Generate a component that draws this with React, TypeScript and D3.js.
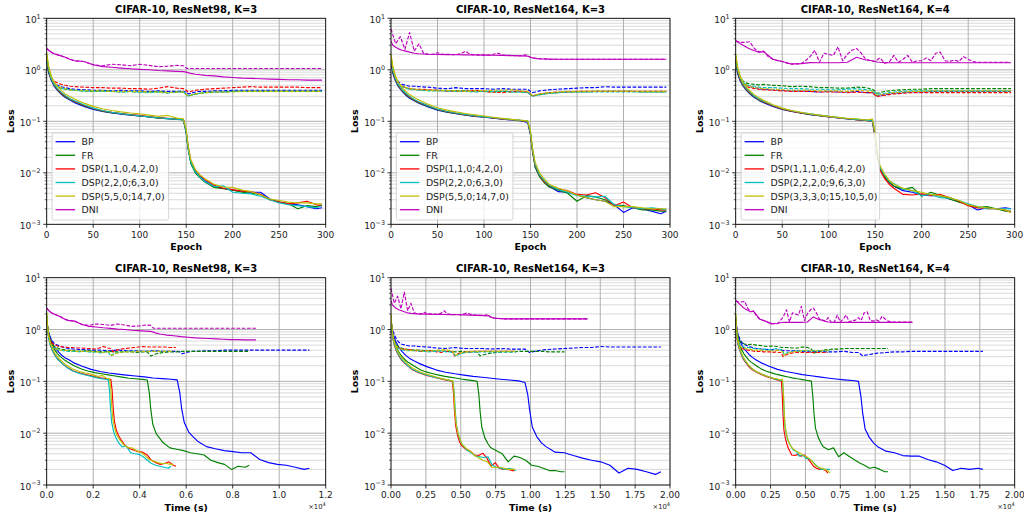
import React from "react";
import * as d3 from "d3";

const W = 1024;
const H = 518;
const FONT = "DejaVu Sans";

// sampled epochs for most curves, and a finer grid for the noisy DNI test curves
const EP = [0, 2, 5, 8, 12, 16, 20, 25, 30, 40, 50, 60, 70, 80, 90, 100, 110, 120, 130, 140, 147, 150, 152, 155, 160, 165, 170, 180, 190, 200, 210, 220, 230, 240, 250, 260, 270, 280, 290, 296];
const EP5 = d3.range(0, 300, 5);
const LAST_EPOCH = 296;

const COLORS = ["#0000ff", "#008000", "#ff0000", "#00bfbf", "#bfbf00", "#bf00bf"];
const LABELS_R98 = ["BP", "FR", "DSP(1,1,0,4,2,0)", "DSP(2,2,0;6,3,0)", "DSP(5,5,0;14,7,0)", "DNI"];
const LABELS_R164K3 = ["BP", "FR", "DSP(1,1,0;4,2,0)", "DSP(2,2,0;6,3,0)", "DSP(5,5,0;14,7,0)", "DNI"];
const LABELS_R164K4 = ["BP", "FR", "DSP(1,1,1,0;6,4,2,0)", "DSP(2,2,2,0;9,6,3,0)", "DSP(3,3,3,0;15,10,5,0)", "DNI"];

// total wall-clock time (s) of each run: BP, FR, DSP a, DSP b, DSP c, DNI
const TIME_R98 = [11300, 8710, 5560, 5340, 5440, 9000];
const TIME_R164K3 = [19350, 12430, 8850, 8950, 8900, 14100];
const TIME_R164K4 = [17720, 10920, 6600, 6750, 6750, 12680];

// ResNet98, K=3
const trainR98 = [
  [1.4, 0.9, 0.62, 0.48, 0.39, 0.33, 0.29, 0.26, 0.23, 0.195, 0.17, 0.155, 0.145, 0.138, 0.132, 0.127, 0.122, 0.116, 0.113, 0.11, 0.107, 0.06, 0.03, 0.016, 0.0105, 0.0085, 0.007, 0.0055, 0.005, 0.0046, 0.0044, 0.0042, 0.0042, 0.0031, 0.0027, 0.0025, 0.0024, 0.0022, 0.002, 0.0021],
  [1.6, 0.95, 0.64, 0.5, 0.4, 0.34, 0.3, 0.265, 0.24, 0.2, 0.175, 0.158, 0.147, 0.14, 0.133, 0.127, 0.121, 0.115, 0.112, 0.109, 0.106, 0.06, 0.03, 0.015, 0.0098, 0.008, 0.0066, 0.0052, 0.0049, 0.0046, 0.0042, 0.004, 0.0038, 0.003, 0.0027, 0.0025, 0.002, 0.0023, 0.0022, 0.0024],
  [1.8, 1.0, 0.66, 0.51, 0.41, 0.35, 0.31, 0.27, 0.245, 0.205, 0.178, 0.16, 0.15, 0.142, 0.135, 0.13, 0.124, 0.118, 0.114, 0.111, 0.108, 0.065, 0.033, 0.017, 0.011, 0.0088, 0.0075, 0.0057, 0.005, 0.0047, 0.0044, 0.0043, 0.0038, 0.003, 0.0027, 0.0025, 0.0026, 0.0028, 0.0024, 0.0023],
  [1.9, 1.05, 0.67, 0.52, 0.42, 0.36, 0.315, 0.275, 0.25, 0.21, 0.18, 0.162, 0.15, 0.141, 0.134, 0.128, 0.122, 0.117, 0.113, 0.11, 0.107, 0.062, 0.031, 0.016, 0.0103, 0.0082, 0.0068, 0.0054, 0.0056, 0.0042, 0.004, 0.0039, 0.0035, 0.003, 0.0026, 0.0024, 0.0023, 0.0022, 0.0021, 0.0023],
  [2.1, 1.2, 0.75, 0.57, 0.46, 0.39, 0.34, 0.3, 0.27, 0.225, 0.195, 0.175, 0.162, 0.152, 0.145, 0.14, 0.132, 0.125, 0.13, 0.115, 0.112, 0.07, 0.035, 0.018, 0.0115, 0.009, 0.0077, 0.006, 0.0053, 0.0052, 0.0046, 0.0043, 0.0037, 0.0031, 0.0029, 0.0027, 0.0026, 0.0026, 0.0025, 0.0025],
  [2.6, 2.4, 2.2, 2.05, 1.95, 1.85, 1.75, 1.6, 1.5, 1.45, 1.25, 1.15, 1.12, 1.08, 1.05, 1.02, 1.0, 0.97, 0.95, 0.93, 0.92, 0.9, 0.88, 0.85, 0.82, 0.8, 0.78, 0.76, 0.73, 0.71, 0.69, 0.68, 0.67, 0.66, 0.65, 0.64, 0.64, 0.63, 0.63, 0.63],
];
const testR98 = [
  [1.5, 0.9, 0.65, 0.55, 0.5, 0.47, 0.45, 0.43, 0.42, 0.41, 0.4, 0.4, 0.39, 0.4, 0.39, 0.39, 0.38, 0.39, 0.38, 0.38, 0.38, 0.37, 0.34, 0.35, 0.37, 0.38, 0.38, 0.39, 0.39, 0.4, 0.4, 0.4, 0.4, 0.4, 0.4, 0.4, 0.4, 0.4, 0.4, 0.4],
  [1.6, 0.95, 0.66, 0.52, 0.46, 0.44, 0.42, 0.41, 0.4, 0.39, 0.38, 0.39, 0.38, 0.37, 0.38, 0.37, 0.37, 0.38, 0.36, 0.37, 0.37, 0.33, 0.31, 0.32, 0.34, 0.35, 0.36, 0.37, 0.37, 0.38, 0.38, 0.38, 0.38, 0.38, 0.38, 0.38, 0.38, 0.38, 0.38, 0.38],
  [1.8, 1.0, 0.7, 0.6, 0.55, 0.52, 0.5, 0.48, 0.47, 0.46, 0.45, 0.45, 0.44, 0.44, 0.43, 0.43, 0.42, 0.44, 0.47, 0.44, 0.43, 0.4, 0.37, 0.38, 0.4, 0.41, 0.42, 0.43, 0.44, 0.45, 0.46, 0.47, 0.46, 0.46, 0.46, 0.46, 0.46, 0.45, 0.45, 0.45],
  [1.9, 1.0, 0.68, 0.54, 0.47, 0.44, 0.42, 0.41, 0.4, 0.39, 0.38, 0.38, 0.38, 0.37, 0.38, 0.37, 0.36, 0.37, 0.35, 0.37, 0.37, 0.33, 0.31, 0.32, 0.34, 0.35, 0.36, 0.37, 0.37, 0.38, 0.38, 0.38, 0.38, 0.38, 0.38, 0.38, 0.38, 0.38, 0.38, 0.38],
  [2.1, 1.1, 0.72, 0.56, 0.48, 0.45, 0.43, 0.41, 0.4, 0.4, 0.39, 0.39, 0.38, 0.38, 0.38, 0.38, 0.37, 0.37, 0.36, 0.37, 0.37, 0.33, 0.32, 0.32, 0.34, 0.35, 0.36, 0.37, 0.37, 0.37, 0.38, 0.38, 0.38, 0.38, 0.38, 0.38, 0.38, 0.38, 0.38, 0.38],
  [2.6, 2.4, 2.2, 2.05, 1.95, 1.85, 1.75, 1.6, 1.5, 1.45, 1.25, 1.2, 1.28, 1.25, 1.2, 1.28, 1.22, 1.15, 1.17, 1.22, 1.2, 1.08, 1.06, 1.06, 1.06, 1.06, 1.06, 1.06, 1.06, 1.06, 1.06, 1.06, 1.06, 1.06, 1.06, 1.06, 1.06, 1.06, 1.06, 1.06],
];

// ResNet164, K=3
const trainR164K3 = [
  [1.5, 0.85, 0.6, 0.47, 0.38, 0.32, 0.28, 0.25, 0.225, 0.19, 0.165, 0.15, 0.14, 0.132, 0.125, 0.12, 0.115, 0.11, 0.106, 0.102, 0.095, 0.055, 0.028, 0.013, 0.0085, 0.0065, 0.0055, 0.0043, 0.0042, 0.0037, 0.0033, 0.003, 0.0028, 0.0024, 0.0017, 0.0021, 0.002, 0.0018, 0.0016, 0.0018],
  [1.6, 0.9, 0.62, 0.48, 0.39, 0.33, 0.29, 0.255, 0.23, 0.195, 0.168, 0.152, 0.142, 0.133, 0.126, 0.121, 0.116, 0.111, 0.107, 0.103, 0.1, 0.055, 0.027, 0.013, 0.0082, 0.0064, 0.0053, 0.0046, 0.004, 0.0028, 0.0036, 0.0034, 0.003, 0.0024, 0.0023, 0.0021, 0.0019, 0.0019, 0.0018, 0.0018],
  [1.7, 0.95, 0.64, 0.5, 0.4, 0.34, 0.3, 0.26, 0.235, 0.2, 0.17, 0.155, 0.143, 0.134, 0.127, 0.121, 0.116, 0.111, 0.107, 0.103, 0.1, 0.058, 0.029, 0.014, 0.0088, 0.0066, 0.0057, 0.0048, 0.0045, 0.0038, 0.0037, 0.0041, 0.0033, 0.0023, 0.0027, 0.0021, 0.002, 0.002, 0.0019, 0.0019],
  [1.8, 1.0, 0.66, 0.51, 0.41, 0.35, 0.305, 0.265, 0.24, 0.2, 0.172, 0.157, 0.145, 0.136, 0.128, 0.122, 0.117, 0.112, 0.108, 0.104, 0.101, 0.06, 0.03, 0.0145, 0.009, 0.007, 0.0058, 0.0047, 0.0042, 0.0036, 0.0035, 0.0034, 0.0035, 0.0024, 0.0022, 0.0021, 0.002, 0.0021, 0.002, 0.0019],
  [2.0, 1.15, 0.74, 0.56, 0.45, 0.38, 0.33, 0.29, 0.26, 0.215, 0.183, 0.165, 0.152, 0.142, 0.134, 0.127, 0.12, 0.114, 0.109, 0.105, 0.102, 0.065, 0.032, 0.016, 0.0097, 0.0075, 0.006, 0.005, 0.0044, 0.0037, 0.0033, 0.003, 0.0028, 0.0022, 0.0022, 0.0022, 0.0021, 0.002, 0.002, 0.002],
  [3.6, 3.0, 2.75, 2.55, 2.4, 2.3, 2.2, 2.1, 2.05, 2.0, 1.98, 1.97, 1.96, 1.95, 1.94, 1.93, 1.92, 1.9, 1.88, 1.86, 1.84, 1.75, 1.7, 1.66, 1.63, 1.62, 1.61, 1.6, 1.6, 1.6, 1.6, 1.6, 1.6, 1.6, 1.6, 1.6, 1.6, 1.6, 1.6, 1.6],
];
const testR164K3 = [
  [1.5, 0.95, 0.7, 0.58, 0.52, 0.5, 0.48, 0.48, 0.47, 0.46, 0.44, 0.43, 0.45, 0.43, 0.43, 0.43, 0.42, 0.43, 0.42, 0.42, 0.42, 0.38, 0.36, 0.37, 0.39, 0.4, 0.41, 0.42, 0.43, 0.44, 0.45, 0.45, 0.47, 0.46, 0.46, 0.46, 0.46, 0.46, 0.46, 0.46],
  [1.6, 0.95, 0.66, 0.52, 0.47, 0.45, 0.43, 0.42, 0.41, 0.4, 0.4, 0.39, 0.39, 0.39, 0.38, 0.38, 0.37, 0.38, 0.37, 0.37, 0.37, 0.33, 0.31, 0.32, 0.33, 0.34, 0.35, 0.36, 0.37, 0.37, 0.37, 0.38, 0.38, 0.38, 0.38, 0.38, 0.37, 0.37, 0.37, 0.37],
  [1.7, 1.0, 0.68, 0.53, 0.47, 0.45, 0.43, 0.42, 0.42, 0.41, 0.4, 0.39, 0.38, 0.38, 0.4, 0.38, 0.37, 0.36, 0.38, 0.38, 0.37, 0.34, 0.31, 0.32, 0.34, 0.35, 0.36, 0.37, 0.37, 0.38, 0.38, 0.38, 0.38, 0.38, 0.38, 0.38, 0.38, 0.38, 0.38, 0.38],
  [1.8, 1.0, 0.68, 0.53, 0.46, 0.44, 0.42, 0.41, 0.4, 0.39, 0.39, 0.39, 0.38, 0.38, 0.37, 0.38, 0.38, 0.39, 0.37, 0.37, 0.36, 0.33, 0.31, 0.31, 0.33, 0.34, 0.35, 0.36, 0.37, 0.37, 0.37, 0.37, 0.37, 0.37, 0.37, 0.37, 0.37, 0.37, 0.37, 0.37],
  [2.0, 1.1, 0.72, 0.55, 0.48, 0.45, 0.43, 0.42, 0.41, 0.4, 0.39, 0.4, 0.39, 0.38, 0.39, 0.39, 0.4, 0.4, 0.41, 0.39, 0.38, 0.34, 0.32, 0.32, 0.34, 0.35, 0.36, 0.37, 0.38, 0.38, 0.38, 0.38, 0.38, 0.38, 0.38, 0.38, 0.38, 0.38, 0.38, 0.38],
];
const dniTestR164K3 = [6.2, 3.2, 4.4, 2.5, 5.3, 2.3, 3.2, 2.1, 2.0, 2.0, 2.15, 2.0, 2.0, 1.98, 1.97, 2.05, 2.3, 2.0, 1.95, 1.95, 1.95, 1.93, 2.0, 2.1, 1.95, 1.9, 1.9, 1.88, 1.87, 1.95, 1.75, 1.68, 1.65, 1.63, 1.6, 1.6, 1.6, 1.6, 1.6, 1.6, 1.6, 1.6, 1.6, 1.6, 1.6, 1.6, 1.6, 1.6, 1.6, 1.6, 1.6, 1.6, 1.6, 1.6, 1.6, 1.6, 1.6, 1.6, 1.6, 1.6];

// ResNet164, K=4
const trainR164K4 = [
  [1.5, 0.85, 0.6, 0.48, 0.39, 0.33, 0.29, 0.255, 0.23, 0.195, 0.17, 0.155, 0.145, 0.135, 0.128, 0.122, 0.116, 0.111, 0.107, 0.104, 0.1, 0.05, 0.025, 0.012, 0.0083, 0.0065, 0.0055, 0.0045, 0.0042, 0.0037, 0.0036, 0.0036, 0.0031, 0.0028, 0.0024, 0.0019, 0.0021, 0.002, 0.0021, 0.002],
  [1.6, 0.9, 0.62, 0.49, 0.4, 0.34, 0.3, 0.26, 0.235, 0.2, 0.172, 0.157, 0.146, 0.136, 0.129, 0.123, 0.117, 0.112, 0.108, 0.104, 0.101, 0.05, 0.025, 0.0125, 0.0085, 0.0066, 0.0055, 0.0048, 0.0052, 0.0035, 0.0042, 0.0036, 0.0031, 0.0027, 0.0024, 0.0021, 0.0022, 0.002, 0.0018, 0.0018],
  [1.7, 0.95, 0.64, 0.5, 0.41, 0.35, 0.305, 0.265, 0.24, 0.2, 0.173, 0.158, 0.146, 0.137, 0.13, 0.123, 0.117, 0.112, 0.108, 0.104, 0.1, 0.05, 0.024, 0.0115, 0.0078, 0.006, 0.005, 0.0038, 0.0037, 0.0039, 0.0036, 0.0038, 0.0033, 0.0028, 0.0023, 0.0021, 0.002, 0.002, 0.0019, 0.0017],
  [1.8, 1.0, 0.67, 0.52, 0.42, 0.36, 0.31, 0.27, 0.245, 0.205, 0.177, 0.16, 0.148, 0.139, 0.132, 0.125, 0.119, 0.113, 0.109, 0.105, 0.102, 0.055, 0.027, 0.013, 0.009, 0.007, 0.0062, 0.0048, 0.0045, 0.0036, 0.0038, 0.0033, 0.0032, 0.0029, 0.0025, 0.0022, 0.002, 0.002, 0.002, 0.002],
  [2.0, 1.15, 0.73, 0.56, 0.45, 0.38, 0.33, 0.285, 0.255, 0.21, 0.18, 0.162, 0.15, 0.14, 0.132, 0.125, 0.119, 0.114, 0.112, 0.106, 0.11, 0.06, 0.03, 0.014, 0.0095, 0.0072, 0.006, 0.005, 0.0045, 0.0042, 0.0038, 0.0036, 0.0033, 0.0029, 0.0024, 0.0022, 0.0021, 0.002, 0.0019, 0.0017],
  [3.7, 3.5, 3.2, 3.0, 2.7, 2.5, 2.35, 2.2, 2.25, 1.6, 1.45, 1.3, 1.32, 1.38, 1.37, 1.37, 1.37, 1.4, 1.75, 1.55, 1.5, 1.45, 1.42, 1.4, 1.38, 1.37, 1.37, 1.37, 1.37, 1.37, 1.37, 1.37, 1.37, 1.37, 1.37, 1.37, 1.37, 1.37, 1.37, 1.37],
];
const testR164K4 = [
  [1.5, 0.9, 0.65, 0.55, 0.5, 0.47, 0.45, 0.43, 0.42, 0.41, 0.4, 0.39, 0.39, 0.38, 0.37, 0.38, 0.37, 0.37, 0.38, 0.36, 0.36, 0.33, 0.31, 0.32, 0.33, 0.34, 0.35, 0.36, 0.37, 0.37, 0.38, 0.38, 0.38, 0.38, 0.38, 0.38, 0.38, 0.38, 0.38, 0.38],
  [1.6, 1.0, 0.72, 0.6, 0.55, 0.53, 0.52, 0.51, 0.52, 0.5, 0.49, 0.47, 0.48, 0.47, 0.45, 0.45, 0.44, 0.44, 0.46, 0.45, 0.42, 0.38, 0.35, 0.36, 0.38, 0.39, 0.4, 0.41, 0.42, 0.42, 0.43, 0.43, 0.43, 0.43, 0.43, 0.43, 0.43, 0.43, 0.43, 0.43],
  [1.7, 0.95, 0.66, 0.53, 0.47, 0.45, 0.43, 0.42, 0.41, 0.4, 0.39, 0.38, 0.38, 0.38, 0.37, 0.37, 0.37, 0.36, 0.37, 0.36, 0.36, 0.32, 0.3, 0.31, 0.32, 0.33, 0.34, 0.35, 0.36, 0.36, 0.36, 0.36, 0.36, 0.36, 0.36, 0.36, 0.36, 0.36, 0.36, 0.36],
  [1.8, 1.0, 0.7, 0.57, 0.51, 0.49, 0.48, 0.46, 0.45, 0.45, 0.44, 0.43, 0.43, 0.42, 0.42, 0.41, 0.41, 0.42, 0.43, 0.41, 0.4, 0.36, 0.33, 0.34, 0.35, 0.36, 0.37, 0.38, 0.39, 0.39, 0.39, 0.39, 0.39, 0.39, 0.39, 0.39, 0.39, 0.39, 0.39, 0.39],
  [2.0, 1.1, 0.72, 0.57, 0.5, 0.47, 0.45, 0.44, 0.43, 0.42, 0.41, 0.4, 0.4, 0.4, 0.39, 0.39, 0.39, 0.38, 0.4, 0.39, 0.38, 0.34, 0.32, 0.33, 0.34, 0.35, 0.36, 0.37, 0.38, 0.38, 0.39, 0.39, 0.39, 0.39, 0.39, 0.39, 0.39, 0.39, 0.39, 0.39],
];
const dniTestR164K4 = [3.6, 3.4, 3.4, 3.5, 2.6, 2.2, 2.3, 1.8, 1.6, 1.5, 1.45, 1.35, 1.28, 1.3, 1.3, 1.5, 1.8, 2.4, 1.4, 2.1, 2.0, 1.9, 2.8, 1.5, 2.0, 2.4, 2.6, 2.1, 1.6, 1.5, 1.45, 1.7, 1.35, 1.4, 1.9, 1.4, 1.6, 1.9, 1.4, 1.5, 1.5, 1.7, 1.5, 2.1, 2.2, 1.5, 1.45, 1.55, 1.45, 1.8, 1.6, 1.45, 1.4, 1.4, 1.4, 1.4, 1.4, 1.4, 1.4, 1.4];

const COL_LEFT = [46.7, 391, 735.7];
const PLOT_W = 279;
const ROWS = [{ top: 18.3, bottom: 224.3 }, { top: 277.7, bottom: 485 }];

const Y_DECADES = [-3, -2, -1, 0, 1];

function Panel({ id, col, row, title, labels, train, test, dniTest, totals, mode, xMax }) {
  const left = COL_LEFT[col];
  const right = left + PLOT_W;
  const { top, bottom } = ROWS[row];
  const isTime = mode === "time";

  const x = d3.scaleLinear().domain([0, isTime ? xMax : 300]).range([left, right]);
  const y = d3.scaleLog().domain([1e-3, 10]).range([bottom, top]);

  const xTicks = isTime
    ? d3.range(0, xMax + 1, xMax > 15000 ? 2500 : 2000)
    : d3.range(0, 301, 50);
  const fmtX = (v) => (isTime ? (v / 1e4).toFixed(xMax > 15000 ? 2 : 1) : String(v));

  const minor = [];
  for (const e of [-3, -2, -1, 0]) for (let k = 2; k <= 9; k++) minor.push(k * Math.pow(10, e));

  const line = d3.line().x((d) => x(d[0])).y((d) => y(d[1]));
  const toX = (ep, i) => (isTime ? (ep / LAST_EPOCH) * totals[i] : ep);

  const series = [];
  labels.forEach((_, i) => {
    const trainPts = EP.map((ep, j) => [toX(ep, i), train[i][j]]);
    series.push({ key: `tr${i}`, d: line(trainPts), color: COLORS[i], dash: null });
    const useFine = i === 5 && dniTest;
    const vals = useFine ? dniTest : test[i];
    const eps = useFine ? EP5 : EP;
    const testPts = eps.map((ep, j) => [toX(ep, i), vals[j]]);
    series.push({ key: `te${i}`, d: line(testPts), color: COLORS[i], dash: "3.7,1.6" });
  });

  const legW = labels[4].length > 18 ? 138.5 : 116.5;
  const legTop = bottom - 91.3;
  const legLeft = left + 5.4;

  return (
    <g>
      <defs>
        <clipPath id={`clip${id}`}>
          <rect x={left} y={top} width={PLOT_W} height={bottom - top} />
        </clipPath>
      </defs>
      {minor.map((v) => (
        <line key={`mg${v}`} x1={left} x2={right} y1={y(v)} y2={y(v)} stroke="#d0d0d0" strokeWidth={0.8} />
      ))}
      {Y_DECADES.map((e) => (
        <line key={`yg${e}`} x1={left} x2={right} y1={y(Math.pow(10, e))} y2={y(Math.pow(10, e))} stroke="#b0b0b0" strokeWidth={1} />
      ))}
      {xTicks.map((v) => (
        <line key={`xg${v}`} x1={x(v)} x2={x(v)} y1={top} y2={bottom} stroke="#b0b0b0" strokeWidth={1} />
      ))}
      <g clipPath={`url(#clip${id})`} fill="none" strokeWidth={1.15} strokeLinejoin="round">
        {series.map((s) => (
          <path key={s.key} d={s.d} stroke={s.color} strokeDasharray={s.dash || undefined} />
        ))}
      </g>
      <rect x={left} y={top} width={PLOT_W} height={bottom - top} fill="none" stroke="#000" strokeWidth={0.8} />
      {xTicks.map((v) => (
        <g key={`xt${v}`}>
          <line x1={x(v)} x2={x(v)} y1={bottom} y2={bottom + 3.5} stroke="#000" strokeWidth={0.8} />
          <text x={x(v)} y={bottom + 13.3} textAnchor="middle" fontSize={9} fontFamily={FONT} fill="#222">
            {fmtX(v)}
          </text>
        </g>
      ))}
      {minor.map((v) => (
        <line key={`mt${v}`} x1={left - 2} x2={left} y1={y(v)} y2={y(v)} stroke="#000" strokeWidth={0.6} />
      ))}
      {Y_DECADES.map((e) => (
        <g key={`yt${e}`}>
          <line x1={left - 3.5} x2={left} y1={y(Math.pow(10, e))} y2={y(Math.pow(10, e))} stroke="#000" strokeWidth={0.8} />
          <text x={left - 6} y={y(Math.pow(10, e)) + 4.5} textAnchor="end" fontSize={9} fontFamily={FONT} fill="#222">
            10
            <tspan dy={-4.3} fontSize={6.4}>{e < 0 ? `\u2212${-e}` : String(e)}</tspan>
          </text>
        </g>
      ))}
      <text x={(left + right) / 2} y={top - 5.5} textAnchor="middle" fontSize={10} fontWeight="bold" fontFamily={FONT}>
        {title}
      </text>
      <text
        transform={`translate(${left - 33},${(top + bottom) / 2}) rotate(-90)`}
        textAnchor="middle"
        fontSize={9.4}
        fontWeight="bold"
        fontFamily={FONT}
      >
        Loss
      </text>
      <text x={(left + right) / 2} y={bottom + 25.5} textAnchor="middle" fontSize={9.4} fontWeight="bold" fontFamily={FONT}>
        {isTime ? "Time (s)" : "Epoch"}
      </text>
      {isTime && (
        <text x={right} y={bottom + 24} textAnchor="end" fontSize={6.8} fontFamily={FONT} fill="#222">
          ×10
          <tspan dy={-3} fontSize={5}>4</tspan>
        </text>
      )}
      {!isTime && (
        <g>
          <rect x={legLeft} y={legTop} width={legW} height={87} rx={2} fill="#fff" fillOpacity={0.8} stroke="#cccccc" strokeWidth={0.8} />
          {labels.map((lab, i) => {
            const cy = legTop + 8.7 + i * 13.6;
            return (
              <g key={lab}>
                <line x1={legLeft + 3.5} x2={legLeft + 23} y1={cy} y2={cy} stroke={COLORS[i]} strokeWidth={1.3} />
                <text x={legLeft + 29.5} y={cy + 3.4} fontSize={9.4} fontFamily={FONT} fill="#222">
                  {lab}
                </text>
              </g>
            );
          })}
        </g>
      )}
    </g>
  );
}

export default function App() {
  return (
    <svg width={W} height={H} style={{ position: "absolute", left: 0, top: 0, background: "#fff" }}>
      <rect width={W} height={H} fill="#fff" />
      <Panel id="a" col={0} row={0} title="CIFAR-10, ResNet98, K=3" labels={LABELS_R98} train={trainR98} test={testR98} totals={TIME_R98} mode="epoch" />
      <Panel id="b" col={1} row={0} title="CIFAR-10, ResNet164, K=3" labels={LABELS_R164K3} train={trainR164K3} test={testR164K3} dniTest={dniTestR164K3} totals={TIME_R164K3} mode="epoch" />
      <Panel id="c" col={2} row={0} title="CIFAR-10, ResNet164, K=4" labels={LABELS_R164K4} train={trainR164K4} test={testR164K4} dniTest={dniTestR164K4} totals={TIME_R164K4} mode="epoch" />
      <Panel id="d" col={0} row={1} title="CIFAR-10, ResNet98, K=3" labels={LABELS_R98} train={trainR98} test={testR98} totals={TIME_R98} mode="time" xMax={12000} />
      <Panel id="e" col={1} row={1} title="CIFAR-10, ResNet164, K=3" labels={LABELS_R164K3} train={trainR164K3} test={testR164K3} dniTest={dniTestR164K3} totals={TIME_R164K3} mode="time" xMax={20000} />
      <Panel id="f" col={2} row={1} title="CIFAR-10, ResNet164, K=4" labels={LABELS_R164K4} train={trainR164K4} test={testR164K4} dniTest={dniTestR164K4} totals={TIME_R164K4} mode="time" xMax={20000} />
    </svg>
  );
}
